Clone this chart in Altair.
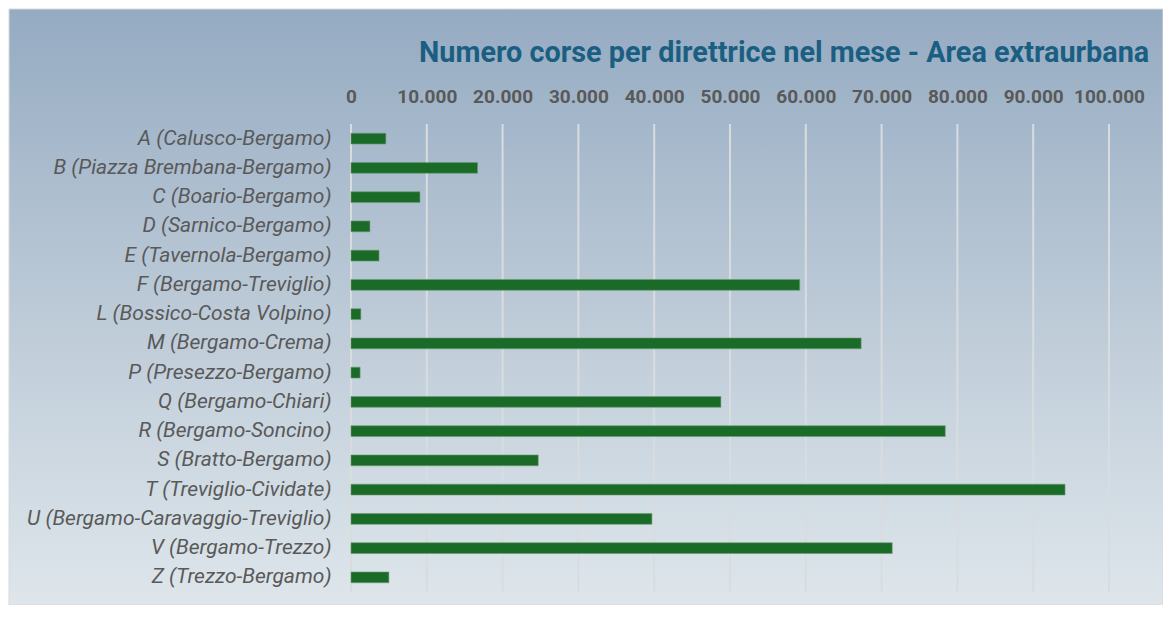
import altair as alt
import pandas as pd

categories = [
    "A (Calusco-Bergamo)",
    "B (Piazza Brembana-Bergamo)",
    "C (Boario-Bergamo)",
    "D (Sarnico-Bergamo)",
    "E (Tavernola-Bergamo)",
    "F (Bergamo-Treviglio)",
    "L (Bossico-Costa Volpino)",
    "M (Bergamo-Crema)",
    "P (Presezzo-Bergamo)",
    "Q (Bergamo-Chiari)",
    "R (Bergamo-Soncino)",
    "S (Bratto-Bergamo)",
    "T (Treviglio-Cividate)",
    "U (Bergamo-Caravaggio-Treviglio)",
    "V (Bergamo-Trezzo)",
    "Z (Trezzo-Bergamo)",
]
values = [4600, 16700, 9100, 2500, 3700, 59200, 1300, 67300,
          1200, 48800, 78400, 24700, 94200, 39700, 71400, 5000]
ticks = [0, 10000, 20000, 30000, 40000, 50000, 60000, 70000, 80000, 90000, 100000]
title_text = "Numero corse per direttrice nel mese - Area extraurbana"

df = pd.DataFrame({"direttrice": categories, "corse": values})
grid_df = pd.DataFrame({"tick": ticks})

W, H = 758, 468
PAD_L, PAD_T, PAD_R, PAD_B = 343, 116, 54, 13

xscale = alt.Scale(domain=[0, 100000], nice=False, zero=True)
xaxis = alt.Axis(
    orient="top",
    values=ticks,
    labelExpr="replace(format(datum.value, ','), regexp(',', 'g'), '.')",
    labelFont="Roboto",
    labelFontWeight="bold",
    labelFontSize=19,
    labelColor="#595959",
    labelPadding=18,
    labelOverlap=False,
    labelFlush=False,
    domain=False,
    ticks=False,
    grid=False,
    title=None,
    zindex=1,
)

bg = alt.Chart(pd.DataFrame({"k": [0]})).mark_rect(
    fill={
        "gradient": "linear",
        "stops": [
            {"offset": 0, "color": "#95ABC2"},
            {"offset": 0.5, "color": "#BCCAD7"},
            {"offset": 1, "color": "#DEE6EB"},
        ],
        "x1": 0, "x2": 0, "y1": 0, "y2": 1,
    },
    stroke="#D6D9DC",
    strokeWidth=1,
).encode(
    x=alt.value(-PAD_L + 1),
    x2=alt.value(W + PAD_R),
    y=alt.value(-PAD_T + 1),
    y2=alt.value(H + PAD_B),
)

grid = alt.Chart(grid_df).mark_rule(color="#D9DCDF", strokeWidth=2).encode(
    x=alt.X("tick:Q", scale=xscale, axis=xaxis)
)

bars = alt.Chart(df).mark_bar(
    color="#1B6B28", stroke="#6E9A74", strokeWidth=0.6
).encode(
    x=alt.X("corse:Q", scale=xscale, axis=xaxis),
    y=alt.Y(
        "direttrice:N",
        sort=categories,
        scale=alt.Scale(paddingInner=0.63, paddingOuter=0.315),
        axis=alt.Axis(
            labelFont="Roboto",
            labelFontStyle="italic",
            labelFontSize=21,
            labelColor="#595959",
            labelPadding=20,
            labelLimit=400,
            domain=False,
            ticks=False,
            grid=False,
            title=None,
            zindex=1,
        ),
    ),
)

chart = alt.layer(bg, grid, bars).properties(
    width=W,
    height=H,
    padding={"left": PAD_L, "top": PAD_T, "right": PAD_R, "bottom": PAD_B},
    autosize=alt.AutoSizeParams(type="none"),
    title=alt.TitleParams(
        title_text,
        anchor="start",
        frame="group",
        dx=68,
        dy=59,
        font="Roboto",
        fontSize=28.8,
        fontWeight="bold",
        color="#1A5F82",
        offset=0,
        zindex=1,
    ),
    background="white",
).configure_view(stroke=None)

chart.save("out.html", embed_options={"renderer": "svg", "actions": False})
